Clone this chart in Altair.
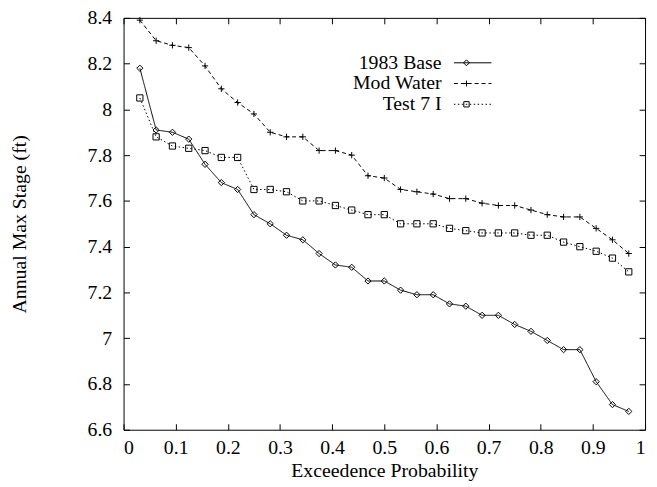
import altair as alt
import pandas as pd

series_names = ["1983 Base", "Mod Water", "Test 7 I"]
n_points = 31
probability = [(i + 1) / 32 for i in range(n_points)]

base_1983 = [8.18, 7.91, 7.90, 7.87, 7.76, 7.68, 7.65, 7.54, 7.50, 7.45, 7.43,
             7.37, 7.32, 7.31, 7.25, 7.25, 7.21, 7.19, 7.19, 7.15, 7.14, 7.10,
             7.10, 7.06, 7.03, 6.99, 6.95, 6.95, 6.81, 6.71, 6.68]
mod_water = [8.39, 8.30, 8.28, 8.27, 8.19, 8.09, 8.03, 7.98, 7.90, 7.88, 7.88,
             7.82, 7.82, 7.80, 7.71, 7.70, 7.65, 7.64, 7.63, 7.61, 7.61, 7.59,
             7.58, 7.58, 7.56, 7.54, 7.53, 7.53, 7.48, 7.43, 7.37]
test_7i = [8.05, 7.88, 7.84, 7.83, 7.82, 7.79, 7.79, 7.65, 7.65, 7.64, 7.60,
           7.60, 7.58, 7.56, 7.54, 7.54, 7.50, 7.50, 7.50, 7.48, 7.47, 7.46,
           7.46, 7.46, 7.45, 7.45, 7.42, 7.40, 7.38, 7.35, 7.29]

x_ticks = [0, 0.1, 0.2, 0.3, 0.4, 0.5, 0.6, 0.7, 0.8, 0.9, 1.0]
y_ticks = [6.6, 6.8, 7.0, 7.2, 7.4, 7.6, 7.8, 8.0, 8.2, 8.4]

rows = []
for name, vals in zip(series_names, [base_1983, mod_water, test_7i]):
    for p, v in zip(probability, vals):
        rows.append({"p": p, "stage": v, "series": name})
df = pd.DataFrame(rows)

W, H = 528, 417
FONT = "Liberation Serif"
FS = 20


# ---- legend sample symbols (line sample + marker) as SVG paths, drawn to the
# right of the (right-aligned) legend label; 1 path unit = 10 px ----
def segs(on, off, start, end):
    out, x = [], start
    while x < end - 1e-9:
        x2 = min(x + on, end)
        out.append(f"M{x:.3f},0H{x2:.3f}")
        x = x2 + off
    return "".join(out)

a, b = 2.3, 6.1
mx, mr = 3.57, 0.3
sym_base = segs(10, 0, a, b) + f"M{mx},{-mr}L{mx+mr},0L{mx},{mr}L{mx-mr},0Z"
sym_mod = segs(0.4, 0.3, a, b) + f"M{mx-mr},0H{mx+mr}M{mx},{-mr}V{mr}"
sym_test = segs(0.15, 0.25, a, b) + f"M{mx-0.27},-0.27H{mx+0.27}V0.27H{mx-0.27}Z"

x_scale = alt.Scale(domain=[0, 1], nice=False, zero=False)
y_scale = alt.Scale(domain=[6.6, 8.4], nice=False, zero=False)

text_style = dict(labelFont=FONT, labelFontSize=FS, labelColor="black",
                  titleFont=FONT, titleFontSize=FS, titleColor="black",
                  titleFontWeight="normal")

def tick_axis(orient, values, offset):
    return alt.Axis(orient=orient, values=values, labels=False, title=None,
                    domain=False, grid=False, ticks=True, tickSize=6,
                    tickColor="black", tickWidth=1, offset=offset)

base = alt.Chart(df)

lines = base.mark_line(color="black", strokeWidth=1).encode(
    x=alt.X("p:Q", scale=x_scale,
            axis=alt.Axis(orient="bottom", values=x_ticks, format="~g",
                          title="Exceedence Probability", ticks=False,
                          domain=False, grid=False, labelPadding=8,
                          titlePadding=3, **text_style)),
    y=alt.Y("stage:Q", scale=y_scale,
            axis=alt.Axis(orient="left", values=y_ticks, format="~g",
                          title="Annual Max Stage (ft)", ticks=False,
                          domain=False, grid=False, labelPadding=12,
                          titlePadding=58, **text_style)),
    strokeDash=alt.StrokeDash("series:N",
                              scale=alt.Scale(domain=series_names,
                                              range=[[1, 0], [4, 3], [1.5, 2.5]]),
                              legend=None),
    detail="series:N",
)

points = base.mark_point(filled=False, color="black", strokeWidth=1, opacity=1).encode(
    x=alt.X("p:Q", scale=x_scale, axis=tick_axis("top", x_ticks, -H)),
    y=alt.Y("stage:Q", scale=y_scale, axis=tick_axis("right", y_ticks, -W)),
    shape=alt.Shape("series:N",
                    scale=alt.Scale(domain=series_names,
                                    range=["diamond", "M-1,0H1M0,-1V1", "square"]),
                    legend=None),
    size=alt.value(40),
)

legend_layer = base.transform_filter("false").mark_point(
    filled=False, color="black", strokeWidth=1, opacity=1
).encode(
    x=alt.X("p:Q", scale=x_scale, axis=tick_axis("bottom", x_ticks, -H)),
    y=alt.Y("stage:Q", scale=y_scale, axis=tick_axis("left", y_ticks, -W)),
    shape=alt.Shape("series:N",
                    scale=alt.Scale(domain=series_names,
                                    range=[sym_base, sym_mod, sym_test]),
                    legend=alt.Legend(orient="none", legendX=301, legendY=35,
                                      title=None, labelAlign="right",
                                      labelOffset=0, symbolSize=400,
                                      symbolStrokeWidth=1,
                                      symbolStrokeColor="black",
                                      symbolFillColor="transparent",
                                      rowPadding=0, labelFont=FONT,
                                      labelFontSize=FS, labelColor="black",
                                      labelLimit=300)),
)

chart = alt.layer(lines, points, legend_layer).resolve_scale(
    shape="independent", strokeDash="independent"
).resolve_axis(
    x="independent", y="independent"
).properties(
    width=W, height=H,
    autosize=alt.AutoSizeParams(type="none"),
    padding={"left": 117, "top": 7, "right": 4, "bottom": 55},
    background="white",
).configure(
    font=FONT
).configure_view(
    stroke="black", strokeWidth=1
).configure_axis(**text_style)

chart.save("out.html", embed_options={"renderer": "svg", "actions": False})
